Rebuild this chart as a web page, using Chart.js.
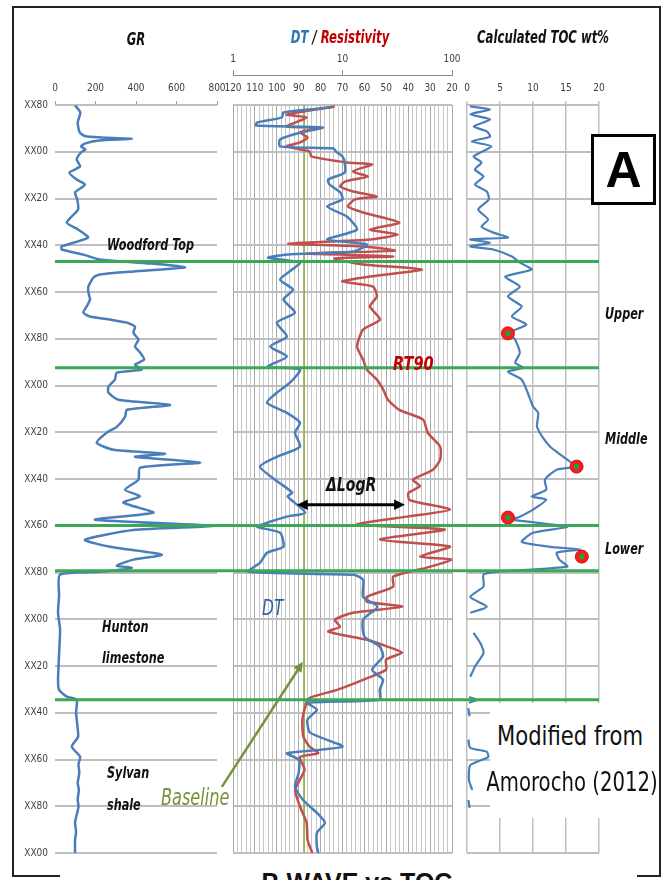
<!DOCTYPE html>
<html>
<head>
<meta charset="utf-8">
<script src="https://cdn.jsdelivr.net/npm/chart.js@4.4.1/dist/chart.umd.min.js"></script>
<style>
body { margin: 0; background: #fff; }
#wrap { position: relative; width: 665px; height: 880px; overflow: hidden; font-family: "Liberation Sans Narrow", "DejaVu Sans Condensed", sans-serif; }
canvas { position: absolute; left: 0; top: 0; }
#frame { position: absolute; left: 12px; top: 6px; width: 645px; height: 867px; border: 2px solid #222; }
.t { position: absolute; white-space: nowrap; line-height: 1; font-style: italic; font-weight: bold; color: #111; z-index: 5;
  transform-origin: 0 0; transform: scaleX(0.78); }
.c { transform-origin: 50% 0; transform: translateX(-50%) scaleX(0.72); }
.m { font-style: normal; font-weight: normal; font-size: 27px; }
#mod { position: absolute; left: 490px; top: 703px; width: 167px; height: 115px; background: #fff; z-index: 4; }
#bottom { position: absolute; left: 60px; top: 868px; width: 577px; height: 20px; background: #fff; z-index: 4; }
#boxA { position: absolute; left: 591px; top: 134px; width: 59px; height: 65px; border: 3px solid #000; background: #fff; z-index: 5;
  font: bold 50px "Liberation Sans", Arial, sans-serif; text-align: center; line-height: 66px; }
</style>
</head>
<body>
<div id="wrap">
  <div id="frame"></div>
  <canvas id="grChart" width="665" height="880"></canvas>
  <canvas id="tocChart" width="665" height="880"></canvas>
  <canvas id="dtChart" width="665" height="880"></canvas>

  <div class="t c" style="left:136px;top:30px;font-size:18px;">GR</div>
  <div class="t c" style="left:340px;top:28px;font-size:18px;"><span style="color:#2e75b6">DT</span> / <span style="color:#c00000">Resistivity</span></div>
  <div class="t c" style="left:543px;top:28px;font-size:18px;">Calculated TOC wt%</div>

  <div class="t" style="left:107px;top:237px;font-size:16px;">Woodford Top</div>
  <div class="t" style="left:605px;top:306px;font-size:16px;">Upper</div>
  <div class="t" style="left:605px;top:431px;font-size:16px;">Middle</div>
  <div class="t" style="left:605px;top:541px;font-size:16px;">Lower</div>
  <div class="t" style="left:393px;top:354px;font-size:19px;color:#c00000;transform:scaleX(0.85);">RT90</div>
  <div class="t" style="left:326px;top:474px;font-size:20px;">&Delta;LogR</div>
  <div class="t" style="left:262px;top:597px;font-size:22px;font-weight:normal;color:#2f5f9f;">DT</div>
  <div class="t" style="left:102px;top:619px;font-size:16px;">Hunton</div>
  <div class="t" style="left:102px;top:650px;font-size:16px;">limestone</div>
  <div class="t" style="left:107px;top:765px;font-size:16px;">Sylvan</div>
  <div class="t" style="left:107px;top:797px;font-size:16px;">shale</div>
  <div class="t" style="left:161px;top:786px;font-size:23px;font-weight:normal;color:#76923c;">Baseline</div>

  <div id="mod"></div>
  <div class="t c m" style="left:570px;top:722px;transform:translateX(-50%) scaleX(0.87);">Modified from</div>
  <div class="t c m" style="left:572px;top:768px;transform:translateX(-50%) scaleX(0.81);">Amorocho (2012)</div>
  <div id="boxA">A</div>
  <div id="bottom"></div>
  <div class="t c" style="left:357px;top:868px;font:bold 25px 'Liberation Sans', Arial, sans-serif;transform:translateX(-50%);">P-WAVE vs TOC</div>
</div>

<script>
// depth axis (relative feet, XX00 of the first block = 0)
const depthTicks = [-20, 0, 20, 40, 60, 80, 100, 120, 140, 160, 180, 200, 220, 240, 260, 280, 300];
const depthLabels = ['XX80', 'XX00', 'XX20', 'XX40', 'XX60', 'XX80', 'XX00', 'XX20', 'XX40', 'XX60', 'XX80', 'XX00', 'XX20', 'XX40', 'XX60', 'XX80', 'XX00'];

// formation tops: Woodford top, upper/middle, middle/lower, Hunton top, Sylvan top
const formationTops = [47.0, 92.4, 159.9, 179.2, 234.4];

// GR log
const grDepth = [-19.8, -16.8, -12.5, -8.3, -6.6, -6.1, -5.5, -4.8, -3.6, -2.3, -1.0, 0.3, 3.3, 6.3, 8.9, 11.9, 14.1, 17.4, 20.4, 24.7,
  30.3, 33.3, 36.7, 40.5, 41.8, 44.0, 46.1, 47.8, 49.5, 51.2, 52.5, 53.8, 57.7, 60.2, 63.2, 66.2, 68.8, 70.5, 71.8, 73.1,
  74.8, 77.4, 80.4, 83.3, 85.9, 88.9, 91.1, 93.2, 94.5, 97.5, 100.5, 103.1, 106.1, 108.3, 110.4, 113.4, 117.7, 120.2, 124.5, 127.5,
  129.2, 130.5, 133.0, 135.2, 140.3, 144.6, 147.4, 150.1, 154.4, 157.4, 160.0, 161.8, 166.0, 169.0, 172.4, 174.5, 177.1, 178.0, 179.7, 180.9,
  190, 197.2, 204.5, 215, 225.9, 230.2, 233.1, 234.4, 240.0, 245, 250.3, 254.5, 258.8, 262, 265.7, 270, 273.0, 277, 280.2, 284,
  287.1, 291, 294.4, 300];
const grValue = [99, 125, 112, 122, 150, 230, 379, 220, 150, 128, 150, 128, 107, 124, 71, 107, 148, 99, 110, 114,
  58, 114, 163, 33, 33, 140, 222, 470, 642, 387, 222, 190, 165, 165, 173, 156, 140, 173, 272, 355,
  395, 387, 412, 395, 420, 440, 395, 428, 305, 296, 264, 264, 313, 568, 355, 346, 305, 255, 206, 288,
  543, 395, 716, 420, 412, 346, 420, 338, 486, 198, 782, 387, 148, 272, 527, 387, 305, 379, 222, 25,
  20, 15, 25, 20, 15, 20, 58, 107, 104, 110, 114, 83, 124, 116, 120, 112, 118, 112, 116, 106,
  99, 104, 99, 99];

// sonic DT (us/ft)
const dtDepth = [-19.0, -16.8, -14.7, -12.5, -11.2, -10.4, -8.3, -5.3, -2.3, -1.4, -0.1, 2.0, 4.6, 8.9, 11.9, 14.0, 17.4, 20.4, 23.4, 27.7,
  33.3, 37.5, 39.7, 42.7, 44.0, 45.3, 47.4, 50.4, 54.7, 59.0, 63.2, 68.8, 73.1, 79.1, 83.3, 87.6, 91.9, 93.2, 98.8, 103.1,
  107.4, 111.7, 115.9, 120.2, 126.2, 130.5, 134.7, 140.3, 145.8, 147.5, 154.4, 156.1, 158.7, 160.4, 163.0, 169.0, 171.6, 175.9, 179.7, 181.0,
  183.1, 190.4, 194.6, 200.2, 207.4, 211.7, 216.0, 221.6, 225.9, 230.2, 234.4, 235.7, 238.7, 243.0, 248.5, 254.5, 257.3, 260.1, 265.7, 271.7,
  277.3, 282.8, 287.1, 291.4, 297.4, 300];
const dtValue = [75, 97, 97.6, 109, 109.5, 79, 89, 98.5, 98.5, 74, 73, 70, 69, 69, 76.6, 76, 71, 70, 77, 68,
  63.4, 77, 58.8, 65, 95, 104, 89.4, 93, 98.5, 92.6, 97, 91.7, 100, 95.4, 103, 95.4, 104, 89.4, 94, 100,
  104.5, 95.4, 89.4, 91.7, 89.4, 100, 107.7, 100.8, 93, 95, 87, 95.4, 104.5, 109, 98.5, 97, 104.5, 107.7, 113, 65,
  60.6, 60.6, 54, 60.6, 60, 53, 51.5, 56.5, 51.5, 53, 53, 86, 81.7, 86, 84.8, 70, 95.4, 90, 90, 91.7,
  88, 81.7, 78, 81.7, 81.7, 81];

// deep resistivity RT90 (ohm.m)
const resDepth = [-19.4, -15.9, -14.7, -10.8, -10.4, -8.3, -6.1, -4.0, -2.3, -0.1, 2.0, 4.6, 5.4, 8.4, 10.6, 12.7, 14.8, 17.0, 19.1, 20.4,
  23.4, 26.0, 30.3, 33.3, 35.4, 37.5, 39.3, 40.5, 42.3, 43.5, 44.8, 45.7, 48.2, 50.4, 53.4, 55.5, 57.7, 61.9, 66.2, 71.8,
  76.1, 83.3, 88.9, 93.2, 97.5, 101.7, 106.1, 110.4, 114.6, 120.2, 126.2, 131.7, 136.0, 140.3, 143.0, 146.0, 149.0, 153.1, 156.1, 159.5,
  161.6, 165.9, 168.9, 173.2, 174.5, 177.9, 181.8, 186.1, 190.4, 192.5, 194.6, 197.2, 200.2, 203.2, 205.3, 208.8, 211.8, 214.3, 217.3, 221.6,
  225.9, 230.2, 233.6, 235.7, 243.0, 250.3, 254.5, 257.3, 259.0, 264.4, 273.0, 280.2, 287.1, 294.4, 300];
const resValue = [8.5, 3.1, 4.7, 3.1, 6.2, 4.1, 4.8, 4.1, 3.1, 5.0, 5.2, 11, 18.6, 12.5, 17, 10.6, 9.5, 12.5, 20.6, 13,
  11.2, 15.4, 33, 17.8, 32, 17.8, 3.2, 15.4, 30, 4.7, 29, 8.5, 15.4, 53, 17.8, 9.9, 19, 20.6, 17.8, 22,
  15.4, 13.6, 15.4, 16.7, 20.6, 23.5, 26, 33, 54.5, 60, 78, 78, 67, 44, 51, 40, 41, 96, 38.8, 13.6,
  86, 22, 96, 51, 100, 59, 29, 29, 16.7, 16.7, 35, 12.5, 8.5, 9.5, 7.4, 16.7, 26, 35, 25, 25,
  15.4, 8.9, 5.0, 4.7, 4.3, 4.4, 5, 6, 4.1, 4.5, 3.7, 4.1, 4.7, 4.8, 5.3];

// DT baseline (us/ft)
const baselineDT = 87.5;

// calculated TOC (wt%), null = no value
const tocDepth = [-19.4, -18.1, -16.0, -13.8, -10.8, -8.7, -6.5, -4.4, -2.3, 2.0, 4.6, 7.6, 10.6, 14.0, 17.0, 20.4, 24.7, 29.0, 32.0, 34.6,
  36.7, 37.5, 38.9, 40.5, 41.8, 44.8, 47.4, 50.4, 53.4, 57.7, 61.9, 66.2, 70.5, 73.9, 77.4, 80.4, 86.0, 90.3, 92.4, 94.1,
  97.5, 103.1, 109.0, 111.7, 117.5, 121.9, 126.2, 130.5, 134.7, 136.0, 140.3, 144.6, 147.5, 148.8, 153.1, 156.1, 157.4, 160.4, 163.0, 166.9,
  169.0, 170.2, 171.5, 174.5, 177.5, 179.7, 180.9, 186.0, 190.4, 194.6, 197.2, 199, 205.8, 210.1, 214.4, 220.3, 224.6, 229, 233.3, 234.4,
  235.7, 237, 238, 241.5, 246, 251.5, 255, 256.7, 259, 262.4, 268.8, 273, 275, 277.3, 280.7];
const tocValue = [0.45, 3.5, 0.5, 3.5, 1, 3, 3.5, 0.7, 3.7, 1, 2.2, 1.2, 2.5, 1.2, 3, 3.3, 1.7, 3.2, 2.2, 4,
  6.2, 0.5, 3.5, 0.5, 4, 6.8, 8, 9.8, 5.8, 8, 6.2, 8.3, 6.8, 9, 6.5, 7.3, 8, 7.3, 8.5, 6.2,
  8.3, 9.2, 10, 10.8, 10.6, 11.4, 12.6, 14.6, 16.4, 13.6, 11.8, 12, 9.8, 12, 10, 8, 6.8, 15.2, 10, 8.3,
  12.6, 17.1, 13.6, 14, 15.2, 4.5, 2.5, 2.5, 0.5, 3, 0.5, null, 1, 2, 2.5, 1.2, 0.5, null, 0.3, 1.5,
  0.3, null, 0.2, 0.4, null, 0.2, 0.5, 3, 3.2, 0.5, 0.3, 0.8, null, 0.2, 0.4];

// measured TOC samples
const tocSampleDepth = [77.7, 134.7, 156.5, 173.2];
const tocSampleValue = [6.2, 16.6, 6.2, 17.4];

Chart.defaults.font.family = '"Liberation Sans Narrow", "DejaVu Sans Condensed", sans-serif';
Chart.defaults.font.size = 10;
Chart.defaults.color = '#404040';

const pts = (depths, vals) => depths.map((d, i) => ({ x: vals[i] === null ? NaN : vals[i], y: d }));
const curve = (data, color, xAxisID, width, order) => ({
  data, xAxisID, borderColor: color, borderWidth: width || 2.5, pointRadius: 0,
  showLine: true, tension: 0.2, spanGaps: false, order: order || 0
});
const depthScale = (showLabels) => ({
  type: 'linear', reverse: true, min: -20, max: 300,
  afterBuildTicks: s => { s.ticks = depthTicks.map(v => ({ value: v })); },
  ticks: { display: showLabels, padding: 7, callback: (v, i) => depthLabels[i], font: { size: 10 } },
  grid: { color: '#bfbfbf', lineWidth: 2, drawTicks: false },
  border: { display: false },
  afterFit: s => { s.width = showLabels ? 45 : 0; }
});
const base = { responsive: false, animation: false, devicePixelRatio: 1,
  plugins: { legend: { display: false }, tooltip: { enabled: false } } };

// GR track
const grChart = new Chart(document.getElementById('grChart'), {
  type: 'scatter',
  data: { datasets: [curve(pts(grDepth, grValue), '#4a7ebb', 'x')] },
  options: { ...base,
    layout: { padding: { left: 10, right: 448, top: 70, bottom: 27 } },
    scales: {
      x: { type: 'linear', position: 'top', min: 0, max: 800,
        ticks: { stepSize: 200, maxRotation: 0, padding: 7 },
        grid: { drawOnChartArea: false, tickLength: 4, color: '#9a9a9a' },
        border: { display: false },
        afterFit: s => { s.height = 35; } },
      y: depthScale(true)
    } }
});

// TOC track
const tocChart = new Chart(document.getElementById('tocChart'), {
  type: 'scatter',
  data: { datasets: [
    curve(pts(tocDepth, tocValue), '#4a7ebb', 'x', 2.2, 3),
    { data: pts(tocSampleDepth, tocSampleValue), pointRadius: 6.5, pointBackgroundColor: '#ff1a1a', pointBorderColor: '#d01010', pointBorderWidth: 1, order: 2 },
    { data: pts(tocSampleDepth, tocSampleValue), pointRadius: 2.8, pointBackgroundColor: '#1aa04a', pointBorderWidth: 0, order: 1 }
  ] },
  options: { ...base,
    layout: { padding: { left: 467, right: 66, top: 70, bottom: 27 } },
    scales: {
      x: { type: 'linear', position: 'top', min: 0, max: 20,
        ticks: { stepSize: 5, maxRotation: 0, padding: 7 },
        grid: { color: '#bfbfbf', lineWidth: 1.5, tickLength: 4 },
        border: { display: false },
        afterFit: s => { s.height = 35; } },
      y: depthScale(false)
    } }
});

// formation tops and annotation arrows, drawn on the top-most chart
const arrow = (ctx, x1, y1, x2, y2, size) => {
  const a = Math.atan2(y2 - y1, x2 - x1);
  ctx.beginPath();
  ctx.moveTo(x2, y2);
  ctx.lineTo(x2 - size * Math.cos(a - 0.45), y2 - size * Math.sin(a - 0.45));
  ctx.lineTo(x2 - size * Math.cos(a + 0.45), y2 - size * Math.sin(a + 0.45));
  ctx.closePath();
  ctx.fill();
};
const overlay = {
  id: 'overlay',
  afterDatasetsDraw(chart) {
    const { ctx } = chart;
    const y = chart.scales.y, dt = chart.scales.dt;
    const left = grChart.chartArea.left, right = tocChart.chartArea.right;
    ctx.save();
    ctx.strokeStyle = '#3aa856';
    ctx.lineWidth = 3;
    formationTops.forEach(d => {
      const py = y.getPixelForValue(d);
      ctx.beginPath(); ctx.moveTo(left, py); ctx.lineTo(right, py); ctx.stroke();
    });
    // delta log R
    const ay = y.getPixelForValue(151);
    const ax1 = dt.getPixelForValue(90.8), ax2 = dt.getPixelForValue(41.5);
    ctx.strokeStyle = '#000'; ctx.fillStyle = '#000'; ctx.lineWidth = 3;
    ctx.beginPath(); ctx.moveTo(ax1 + 6, ay); ctx.lineTo(ax2 - 6, ay); ctx.stroke();
    arrow(ctx, ax2 - 10, ay, ax2, ay, 12);
    arrow(ctx, ax1 + 10, ay, ax1, ay, 12);
    // baseline pointer
    const bx1 = dt.getPixelForValue(125.1), by1 = y.getPixelForValue(271.7);
    const bx2 = dt.getPixelForValue(88.1), by2 = y.getPixelForValue(218.2);
    ctx.strokeStyle = '#76923c'; ctx.fillStyle = '#76923c'; ctx.lineWidth = 2.5;
    ctx.beginPath(); ctx.moveTo(bx1, by1); ctx.lineTo(bx2 - 3, by2 + 5); ctx.stroke();
    arrow(ctx, bx1, by1, bx2, by2, 11);
    ctx.restore();
  }
};

// DT / resistivity track
const dtChart = new Chart(document.getElementById('dtChart'), {
  type: 'scatter',
  data: { datasets: [
    curve([{ x: baselineDT, y: -20 }, { x: baselineDT, y: 300 }], '#8db33a', 'dt', 1.5, 3),
    curve(pts(dtDepth, dtValue), '#4a7ebb', 'dt', 2.5, 1),
    curve(pts(resDepth, resValue), '#c0504d', 'res', 2.5, 2)
  ] },
  options: { ...base,
    layout: { padding: { left: 233, right: 213, top: 50, bottom: 27 } },
    scales: {
      dt: { type: 'linear', axis: 'x', position: 'top', min: 20, max: 120, reverse: true, weight: 0,
        afterBuildTicks: s => { const t = []; for (let v = 20; v <= 120; v += 2) t.push({ value: v }); s.ticks = t; },
        ticks: { autoSkip: false, maxRotation: 0, padding: 11, callback: v => (v % 10 === 0 ? String(v) : '') },
        grid: { color: c => (c.tick && c.tick.value % 10 === 0 ? '#a8a8a8' : '#c6c6c6'), lineWidth: 1, drawTicks: false },
        border: { display: false },
        afterFit: s => { s.height = 30; } },
      res: { type: 'logarithmic', axis: 'x', position: 'top', min: 1, max: 100, weight: 1,
        afterBuildTicks: s => { s.ticks = [1, 10, 100].map(v => ({ value: v })); },
        ticks: { maxRotation: 0, padding: 5, callback: v => String(v) },
        grid: { drawOnChartArea: false, tickLength: 5, color: '#8a8a8a' },
        border: { display: true, color: '#8a8a8a' },
        afterFit: s => { s.height = 25; } },
      y: depthScale(false)
    } },
  plugins: [overlay]
});
</script>
</body>
</html>
